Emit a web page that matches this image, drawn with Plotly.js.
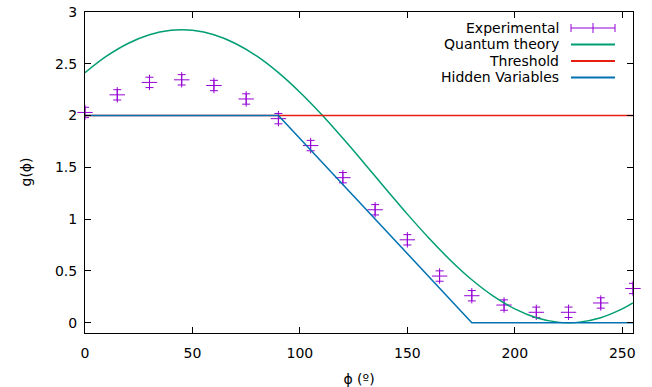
<!DOCTYPE html>
<html>
<head>
<meta charset="utf-8">
<script src="https://cdn.plot.ly/plotly-3.0.1.min.js"></script>
<style>html,body{margin:0;padding:0;background:#fff;}#chart{width:652px;height:387px;}</style>
</head>
<body>
<div id="chart"></div>
<script>
const expPhi = [0, 15, 30, 45, 60, 75, 90, 105, 120, 135, 150, 165, 180, 195, 210, 225, 240, 255];
const expG = [2.03, 2.20, 2.32, 2.345, 2.29, 2.16, 1.97, 1.71, 1.40, 1.09, 0.80, 0.45, 0.26, 0.17, 0.10, 0.10, 0.19, 0.33];
const expErr = [0.05, 0.05, 0.05, 0.05, 0.05, 0.05, 0.05, 0.05, 0.05, 0.05, 0.05, 0.05, 0.05, 0.05, 0.05, 0.05, 0.05, 0.05];

// Quantum theory curve
const qPhi = [0, 10, 20, 30, 40, 45, 50, 60, 70, 80, 90, 100, 110, 120, 130, 140, 150, 160, 170, 180, 190, 200, 210, 220, 225, 230, 240, 250, 255];
const qG = [2.414, 2.573, 2.696, 2.780, 2.823, 2.828, 2.823, 2.780, 2.696, 2.573, 2.414, 2.225, 2.012, 1.780, 1.538, 1.291, 1.048, 0.817, 0.603, 0.414, 0.256, 0.133, 0.048, 0.005, 0.0, 0.005, 0.048, 0.133, 0.190];

// Threshold
const thPhi = [0, 255];
const thG = [2, 2];

// Hidden variables
const hvPhi = [0, 90, 180, 255];
const hvG = [2, 2, 0, 0];

const xTicks = [0, 50, 100, 150, 200, 250];
const yTicks = [0, 0.5, 1, 1.5, 2, 2.5, 3];
const legendNames = ["Experimental", "Quantum theory", "Threshold", "Hidden Variables"];
const xTitle = "ϕ (º)";
const yTitle = "g(ϕ)";

const cExp = "#9400d3", cQ = "#009e73", cTh = "#e51e10", cHv = "#0072b2";
const FONT = "DejaVu Sans, sans-serif";
const FS = 14;

const traces = [
  {x: expPhi, y: expG, type: "scatter", mode: "markers", cliponaxis: false,
   marker: {symbol: "cross-thin", size: 11, color: cExp, line: {color: cExp, width: 1}},
   error_y: {type: "data", array: expErr, visible: true, color: cExp, thickness: 1, width: 4},
   showlegend: false},
  {x: qPhi, y: qG, type: "scatter", mode: "lines", line: {color: cQ, width: 1.5, shape: "spline"}, showlegend: false},
  {x: thPhi, y: thG, type: "scatter", mode: "lines", line: {color: cTh, width: 1.5}, showlegend: false},
  {x: hvPhi, y: hvG, type: "scatter", mode: "lines", line: {color: cHv, width: 1.5}, showlegend: false}
];

// manual gnuplot-style legend (text right, sample on the right)
const L = 85, R = 633, T = 12, B = 333;
const px = v => (v - L) / (R - L);
const py = v => (B - v) / (B - T);
const rowsY = [28, 44.5, 61, 77.5];
const textX = px(561), s0 = px(571), s1 = px(615), sm = px(593);
const legColors = [cExp, cQ, cTh, cHv];
const annotations = legendNames.map((n, i) => ({
  xref: "paper", yref: "paper", x: textX, y: py(rowsY[i]), xanchor: "right", yanchor: "middle",
  text: n, showarrow: false, font: {family: FONT, size: FS, color: "#000"}
}));
// y-axis title placed like gnuplot's ylabel
annotations.push({xref: "paper", yref: "paper", x: px(25), y: 0.5, xanchor: "center", yanchor: "middle",
  text: yTitle, textangle: -90, showarrow: false, font: {family: FONT, size: FS, color: "#000"}});

const shapes = [];
legendNames.forEach((n, i) => {
  shapes.push({type: "line", xref: "paper", yref: "paper", x0: s0, x1: s1, y0: py(rowsY[i]), y1: py(rowsY[i]),
    line: {color: legColors[i], width: i === 0 ? 1 : 2}});
});
// error-bar sample caps and marker
[s0, s1].forEach(xx => shapes.push({type: "line", xref: "paper", yref: "paper", ysizemode: "pixel", yanchor: py(rowsY[0]),
  x0: xx, x1: xx, y0: -4, y1: 4, line: {color: cExp, width: 1}}));
shapes.push({type: "line", xref: "paper", yref: "paper", ysizemode: "pixel", yanchor: py(rowsY[0]),
  x0: sm, x1: sm, y0: -5, y1: 5, line: {color: cExp, width: 1}});

const axisCommon = {
  showgrid: false, zeroline: false, showline: true, linecolor: "#000", linewidth: 1,
  mirror: "ticks", ticks: "inside", ticklen: 6, tickcolor: "#000", tickwidth: 1,
  tickfont: {family: FONT, size: FS, color: "#000"}
};

const layout = {
  width: 652, height: 387,
  margin: {l: L, r: 652 - R, t: T, b: 387 - B},
  paper_bgcolor: "#fff", plot_bgcolor: "#fff",
  font: {family: FONT, size: FS, color: "#000"},
  xaxis: Object.assign({}, axisCommon, {range: [0, 255], tickvals: xTicks, ticktext: xTicks.map(String),
    ticklabelstandoff: 7,
    title: {text: xTitle, font: {family: FONT, size: FS, color: "#000"}}}),
  yaxis: Object.assign({}, axisCommon, {range: [-0.1, 3], tickvals: yTicks, ticktext: yTicks.map(String),
    ticklabelstandoff: 4}),
  annotations: annotations,
  shapes: shapes,
  showlegend: false
};

Plotly.newPlot("chart", traces, layout, {displayModeBar: false, staticPlot: true});
</script>
</body>
</html>
